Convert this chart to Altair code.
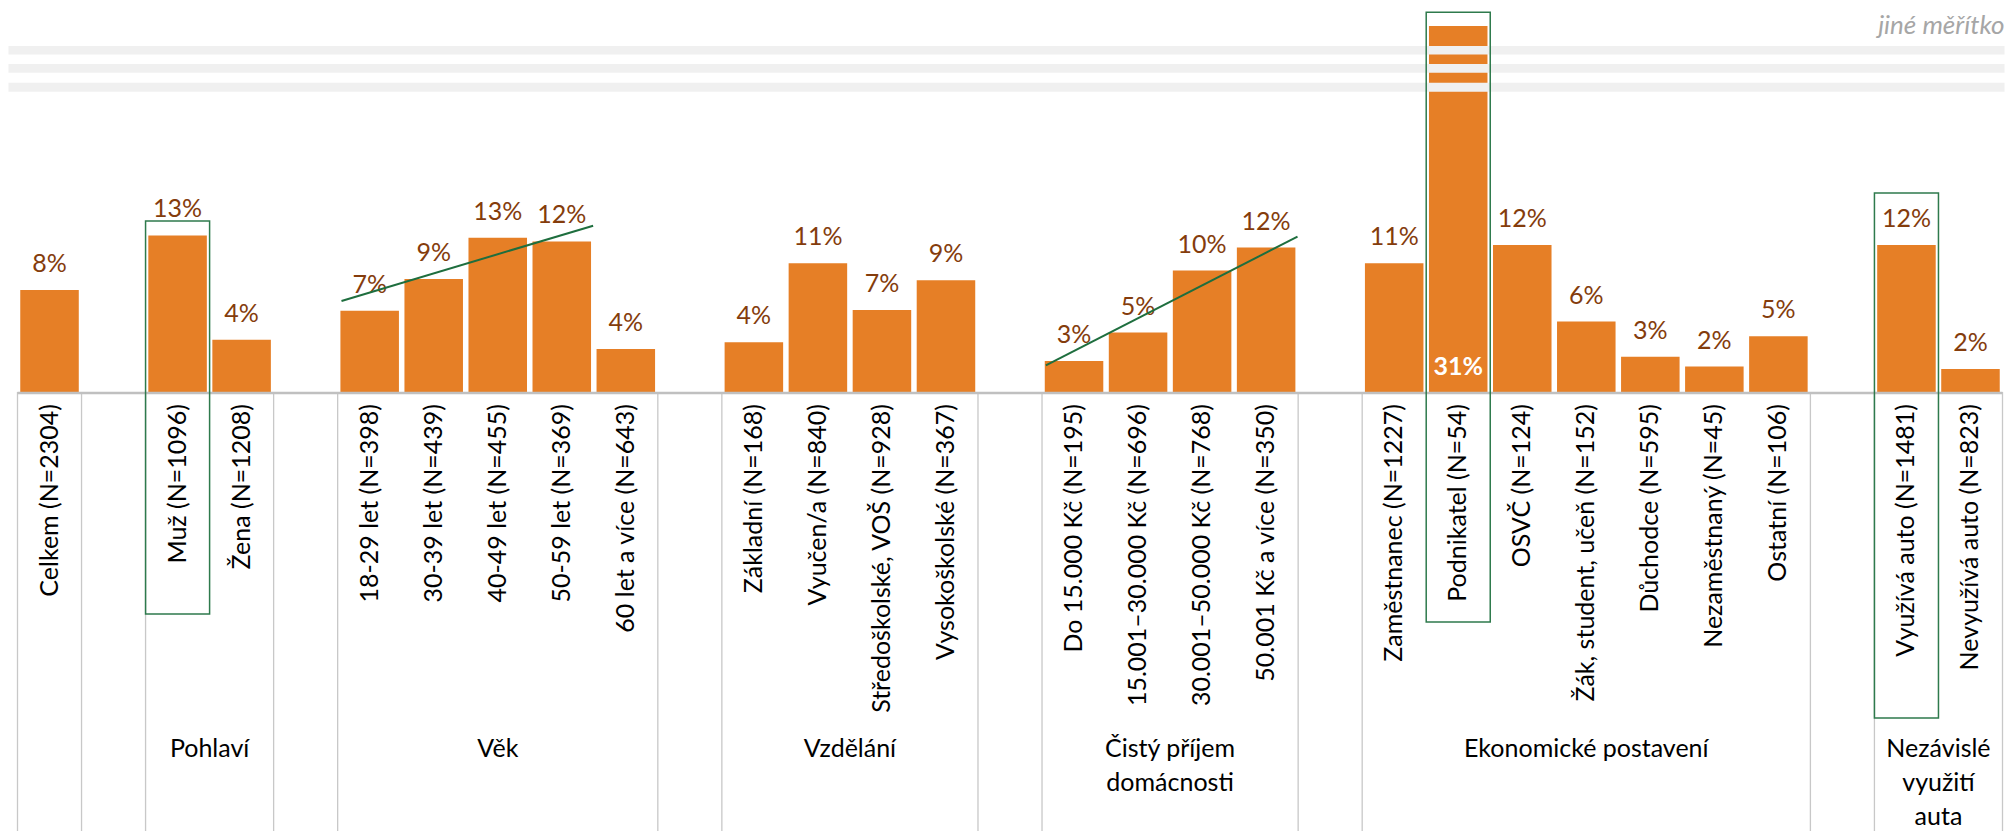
import altair as alt
import pandas as pd

# ---------------- data ----------------
CATEGORIES = [
    "Celkem (N=2304)",
    "Muž (N=1096)", "Žena (N=1208)",
    "18-29 let (N=398)", "30-39 let (N=439)", "40-49 let (N=455)",
    "50-59 let (N=369)", "60 let a více (N=643)",
    "Základní (N=168)", "Vyučen/a (N=840)", "Středoškolské, VOŠ (N=928)",
    "Vysokoškolské (N=367)",
    "Do 15.000 Kč (N=195)", "15.001–30.000 Kč (N=696)",
    "30.001–50.000 Kč (N=768)", "50.001 Kč a více (N=350)",
    "Zaměstnanec (N=1227)", "Podnikatel (N=54)", "OSVČ (N=124)",
    "Žák, student, učeň (N=152)", "Důchodce (N=595)",
    "Nezaměstnaný (N=45)", "Ostatní (N=106)",
    "Využívá auto (N=1481)", "Nevyužívá auto (N=823)",
]
VALUES = [
    8.4,
    12.9, 4.3,
    6.7, 9.3, 12.7, 12.4, 3.55,
    4.1, 10.6, 6.75, 9.2,
    2.55, 4.9, 10.0, 11.9,
    10.6, 31.0, 12.1, 5.8, 2.9, 2.1, 4.6,
    12.1, 1.9,
]
GROUP_NAMES = ["", "Pohlaví", "Věk", "Vzdělání", "Čistý příjem\ndomácnosti",
               "Ekonomické postavení", "Nezávislé\nvyužití\nauta"]
GROUP_SIZES = [1, 2, 5, 4, 4, 7, 2]
BROKEN = ["Podnikatel (N=54)"]          # bar drawn on a different scale
HIGHLIGHT = ["Muž (N=1096)", "Podnikatel (N=54)", "Využívá auto (N=1481)"]
TREND_FROM = ["18-29 let (N=398)", "Do 15.000 Kč (N=195)"]
TREND_TO = ["50-59 let (N=369)", "50.001 Kč a více (N=350)"]
TREND_START = [7.5, 2.2]
TREND_END = [13.7, 12.8]
SCALE_MAX = 30.15
NOTE = ["jiné měřítko"]

# ---------------- styles / layout ----------------
ORANGE = "#E67F26"
BROWN = "#843C0C"
GREEN = "#2E7A4C"
TREND = "#1E6E3E"
GRID = "#c8c8c8"
FONT = "Lato"
W, H = 1985, 366
PAD = {"left": 9.5, "top": 18, "right": 2, "bottom": 439}

# slots (categories plus one empty slot between groups)
slots = []
groups = []
i = 0
for gi, (g, n) in enumerate(zip(GROUP_NAMES, GROUP_SIZES)):
    if gi > 0:
        slots.append(f"gap{gi}")
    cats = CATEGORIES[i:i + n]
    slots.extend(cats)
    groups.append({"name": g, "first": cats[0], "last": cats[-1],
                   "mid": cats[n // 2], "even": n % 2 == 0})
    i += n

df = pd.DataFrame({"cat": CATEGORIES, "v": VALUES})
normal = df[~df["cat"].isin(BROKEN)]
broken = df[df["cat"].isin(BROKEN)]
gdf = pd.DataFrame(groups)
tdf = pd.DataFrame({"c1": TREND_FROM, "c2": TREND_TO, "v1": TREND_START, "v2": TREND_END})
one = pd.DataFrame({"a": [0]})

xs = alt.Scale(type="band", domain=slots, paddingInner=0, paddingOuter=0)
ys = alt.Scale(domain=[0, SCALE_MAX], clamp=True)

bars = alt.Chart(df).mark_bar(color=ORANGE, width=alt.RelativeBandSize(0.914)).encode(
    x=alt.X("cat:N", scale=xs, axis=None),
    y=alt.Y("v:Q", scale=ys, axis=None),
)

# category labels (rotated) and the axis line
cat_labels = alt.Chart(df).mark_text(
    font=FONT, fontSize=25, color="black", angle=270, align="right",
    baseline="middle").encode(
    x=alt.X("cat:N", scale=xs, axis=None),
    y=alt.value(H + 12),
    text="cat:N",
)
axis_line = alt.Chart(one).mark_rule(color="#c0c0c0", strokeWidth=2.5).encode(
    x=alt.value(0), x2=alt.value(W), y=alt.value(H + 1))

labels = alt.Chart(normal).transform_calculate(
    lab="format(datum.v / 100, '.0%')"
).mark_text(font=FONT, fontSize=25, color=BROWN, baseline="alphabetic", dy=-18).encode(
    x=alt.X("cat:N", scale=xs, axis=None),
    y=alt.Y("v:Q", scale=ys, axis=None),
    text="lab:N",
)

blabels = alt.Chart(broken).transform_calculate(
    lab="format(datum.v / 100, '.0%')"
).mark_text(font=FONT, fontSize=25, fontWeight="bold", color="white",
            baseline="alphabetic", dy=-17).encode(
    x=alt.X("cat:N", scale=xs, axis=None),
    y=alt.Y(datum=0, scale=ys, axis=None),
    text="lab:N",
)

bands = [
    alt.Chart(one).mark_rect(color="#f0f0f0").encode(
        x=alt.value(-9), x2=alt.value(W + 2), y=alt.value(a), y2=alt.value(b))
    for a, b in [(20, 28.5), (38, 46.7), (56.7, 65.7)]
]

note = alt.Chart(pd.DataFrame({"t": NOTE})).mark_text(
    font=FONT, fontSize=26, fontStyle="italic", color="#a6a6a6",
    align="right", baseline="alphabetic").encode(
    x=alt.value(W + 2), y=alt.value(8), text="t:N")

left_rules = alt.Chart(gdf).mark_rule(color=GRID, strokeWidth=1.3).encode(
    x=alt.X("first:N", scale=xs, axis=None, bandPosition=0),
    y=alt.value(H), y2=alt.value(H + PAD["bottom"]))
right_rules = alt.Chart(gdf).mark_rule(color=GRID, strokeWidth=1.3).encode(
    x=alt.X("last:N", scale=xs, axis=None, bandPosition=1),
    y=alt.value(H), y2=alt.value(H + PAD["bottom"]))

named = gdf[gdf["name"] != ""]
group_labels = []
for even, sub in named.groupby("even"):
    group_labels.append(
        alt.Chart(sub).mark_text(
            font=FONT, fontSize=25, color="black", baseline="alphabetic",
            lineBreak="\n", lineHeight=34).encode(
            x=alt.X("mid:N", scale=xs, axis=None, bandPosition=0 if even else 0.5),
            y=alt.value(731), text="name:N"))

trends = alt.Chart(tdf).mark_rule(color=TREND, strokeWidth=2).encode(
    x=alt.X("c1:N", scale=xs, axis=None, bandPosition=0.06),
    x2=alt.X2("c2", bandPosition=0.99),
    y=alt.Y("v1:Q", scale=ys, axis=None),
    y2="v2:Q",
)

box_y = {"Muž (N=1096)": (195, 588), "Podnikatel (N=54)": (-13.7, 596),
         "Využívá auto (N=1481)": (167, 692)}
boxes = [
    alt.Chart(pd.DataFrame({"cat": [c]})).mark_rect(
        fillOpacity=0, stroke=GREEN, strokeWidth=1.5).encode(
        x=alt.X("cat:N", scale=xs, axis=None),
        y=alt.value(box_y[c][0]), y2=alt.value(box_y[c][1]))
    for c in HIGHLIGHT
]

chart = alt.layer(
    bars, left_rules, right_rules, axis_line, cat_labels, *bands, labels,
    blabels, trends, *group_labels, note, *boxes
).properties(
    width=W, height=H, padding=PAD,
    autosize=alt.AutoSizeParams(type="none"),
).configure_view(stroke=None)

chart.save("out.html", embed_options={"renderer": "svg", "actions": False})
